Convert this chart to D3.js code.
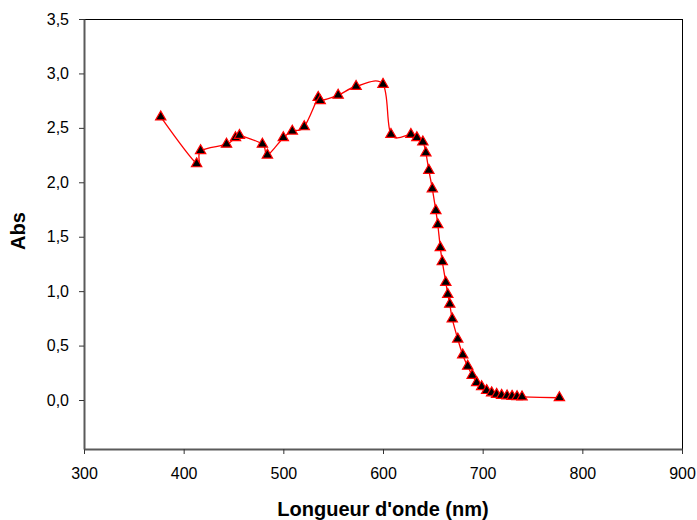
<!DOCTYPE html>
<html><head><meta charset="utf-8">
<script src="https://cdn.jsdelivr.net/npm/d3@7"></script>
<style>body{margin:0;background:#fff}svg{display:block}</style>
</head><body>
<script>
const wavelengths = [377,413,417,443,452,456,479,484,500,509,521,535,537,555,573,600,608,628,634,640,643,646,649.5,653,655,657.5,659.5,663,665,667,669.5,675,680,685,689.5,694,699,704,709,714,719,724.5,729.5,734.5,739.5,777];
const absorbance = [2.60,2.17,2.29,2.35,2.41,2.43,2.35,2.25,2.41,2.47,2.51,2.78,2.75,2.80,2.88,2.90,2.44,2.44,2.41,2.37,2.27,2.11,1.94,1.74,1.61,1.40,1.27,1.08,0.97,0.88,0.745,0.56,0.414,0.31,0.227,0.16,0.122,0.087,0.066,0.052,0.043,0.037,0.034,0.030,0.028,0.021];
const xTicks = [300,400,500,600,700,800,900];
const yTicks = [0,0.5,1.0,1.5,2.0,2.5,3.0,3.5];

const W=697,H=520, L=84, R=682, T=19, B=449;
const svg=d3.select("body").append("svg").attr("width",W).attr("height",H);
const x=d3.scaleLinear().domain([300,900]).range([L,R]);
const y=d3.scaleLinear().domain([-0.45,3.5]).range([B,T]);
const fmt=d=>d3.format(".1f")(d).replace(".",",");
const font="'Liberation Sans', Arial, sans-serif";

// top and right frame
svg.append("line").attr("x1",L).attr("x2",R).attr("y1",T+0.5).attr("y2",T+0.5).attr("stroke","#000").attr("stroke-width",1);
svg.append("line").attr("x1",R+0.5).attr("x2",R+0.5).attr("y1",T).attr("y2",B).attr("stroke","#000").attr("stroke-width",1);

const gx=svg.append("g").attr("transform",`translate(0,${B})`)
  .call(d3.axisBottom(x).tickValues(xTicks).tickSize(5).tickPadding(14).tickSizeOuter(0));
const gy=svg.append("g").attr("transform",`translate(${L},0)`)
  .call(d3.axisLeft(y).tickValues(yTicks).tickFormat(fmt).tickSize(5).tickPadding(10).tickSizeOuter(0));
[gx,gy].forEach(g=>{
  g.select(".domain").attr("stroke","#5a5a5a").attr("stroke-width",2);
  g.selectAll(".tick line").attr("stroke","#333");
  g.selectAll("text").attr("font-family",font).attr("font-size",16).attr("fill","#000");
});

const line=d3.line().x((d,i)=>x(wavelengths[i])).y(d=>y(d)).curve(d3.curveCardinal.tension(0));
svg.append("path").datum(absorbance).attr("d",line).attr("fill","none").attr("stroke","#ff0000").attr("stroke-width",1.3);

const sym=d3.symbol().type(d3.symbolTriangle).size(46);
svg.append("g").selectAll("path").data(absorbance).join("path")
  .attr("transform",(d,i)=>`translate(${x(wavelengths[i])},${y(d)})`)
  .attr("d",sym).attr("fill","#000").attr("stroke","#ff0000").attr("stroke-width",1.2);

svg.append("text").attr("x",(L+R)/2).attr("y",516).attr("text-anchor","middle")
  .attr("font-family",font).attr("font-weight","bold").attr("font-size",20).text("Longueur d'onde (nm)");
svg.append("text").attr("transform",`translate(25,231) rotate(-90)`).attr("text-anchor","middle")
  .attr("font-family",font).attr("font-weight","bold").attr("font-size",20).text("Abs");
</script>
</body></html>
